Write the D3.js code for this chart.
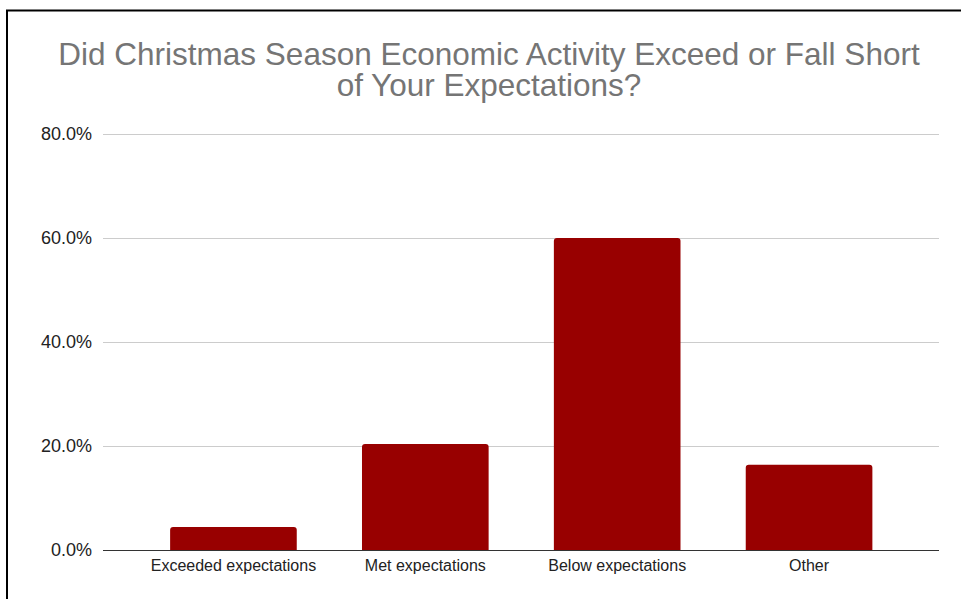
<!DOCTYPE html>
<html>
<head>
<meta charset="utf-8">
<script src="https://cdn.jsdelivr.net/npm/d3@7"></script>
<style>
  html, body { margin: 0; padding: 0; background: #fff; }
  svg { display: block; font-family: "Liberation Sans", Arial, Helvetica, sans-serif; }
</style>
</head>
<body>
<svg id="chart" width="961" height="599"></svg>
<script>
// Survey responses (share of respondents)
const categories = ["Exceeded expectations", "Met expectations", "Below expectations", "Other"];
const shares = [0.044, 0.204, 0.600, 0.164];
const yTicks = [0, 0.2, 0.4, 0.6, 0.8];
const titleLines = ["Did Christmas Season Economic Activity Exceed or Fall Short", "of Your Expectations?"];

const svg = d3.select("#chart");
const W = 961, H = 599;

// Frame: top and left edges
svg.append("path")
  .attr("d", `M7,${H} V10.5 H${W}`)
  .attr("fill", "none")
  .attr("stroke", "#000")
  .attr("stroke-width", 2);

// Title, two centred lines
svg.append("g")
  .attr("class", "title")
  .selectAll("text")
  .data(titleLines)
  .join("text")
  .attr("text-anchor", "middle")
  .attr("fill", "#757575")
  .attr("font-size", 31.5)
  .attr("x", 489)
  .attr("y", (d, i) => 64.5 + i * 31.5)
  .text(d => d);

const gridLeft = 103, gridRight = 939;
const y = d3.scaleLinear().domain([0, 0.8]).range([550, 134]);
const x = d3.scaleBand().domain(categories).range([137.5, 905]).paddingInner(0.34).paddingOuter(0.17);

// Gridlines
svg.append("g")
  .selectAll("line")
  .data(yTicks.filter(t => t > 0))
  .join("line")
  .attr("x1", gridLeft).attr("x2", gridRight)
  .attr("y1", d => y(d) + 0.5).attr("y2", d => y(d) + 0.5)
  .attr("stroke", "#cccccc").attr("stroke-width", 1);

// Y axis labels
const yAxis = d3.axisLeft(y).tickValues(yTicks).tickFormat(d3.format(".1%")).tickSize(0).tickPadding(0);
const gy = svg.append("g").attr("transform", "translate(92,0)").call(yAxis);
gy.select(".domain").remove();
gy.selectAll("text").attr("font-size", 18).attr("fill", "#222").attr("font-family", "Liberation Sans, Arial, sans-serif");

// Bars with rounded top corners
const r = 3;
svg.append("g")
  .selectAll("path")
  .data(categories.map((c, i) => ({ c, v: shares[i] })))
  .join("path")
  .attr("fill", "#980000")
  .attr("d", d => {
    const x0 = x(d.c), x1 = x0 + x.bandwidth(), y0 = y(0), y1 = y(d.v);
    return `M${x0},${y0} V${y1 + r} Q${x0},${y1} ${x0 + r},${y1} H${x1 - r} Q${x1},${y1} ${x1},${y1 + r} V${y0} Z`;
  });

// Baseline
svg.append("line")
  .attr("x1", gridLeft).attr("x2", gridRight)
  .attr("y1", y(0) + 0.5).attr("y2", y(0) + 0.5)
  .attr("stroke", "#333").attr("stroke-width", 1);

// X axis labels
const xAxis = d3.axisBottom(x).tickSize(0).tickPadding(0);
const gx = svg.append("g").attr("transform", `translate(0,${y(0)})`).call(xAxis);
gx.select(".domain").remove();
gx.selectAll("text").attr("font-size", 16).attr("fill", "#222").attr("dy", 0).attr("y", 21)
  .attr("font-family", "Liberation Sans, Arial, sans-serif");
</script>
</body>
</html>
